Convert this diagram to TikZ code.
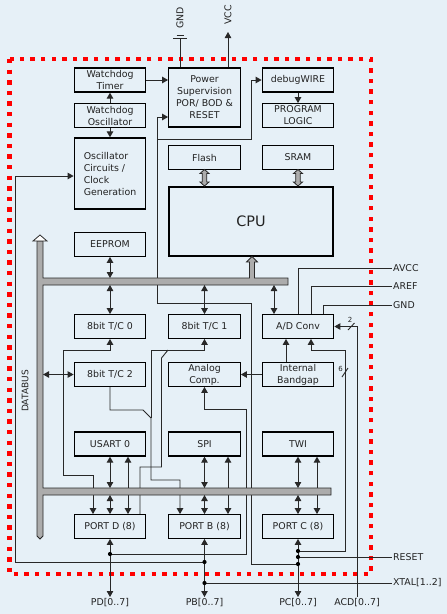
\documentclass[tikz,border=0pt]{standalone}
\usepackage{fontspec}
\setmainfont{DejaVu Sans}
\usetikzlibrary{arrows.meta,calc}
\definecolor{bg}{RGB}{230,240,247}
\definecolor{busg}{RGB}{172,172,172}
\definecolor{ln}{RGB}{40,40,40}
\definecolor{txt}{RGB}{34,34,34}
\begin{document}
\begin{tikzpicture}[x=1pt,y=-1pt,
  blk/.style={draw=black, line width=1.3pt, fill=bg, minimum width=71.5pt, minimum height=23.5pt, inner sep=0pt, align=center, text=txt, font=\fontsize{9.4}{12}\selectfont},
  wire/.style={draw=ln, line width=0.9pt},
  arr/.style={wire, -{Triangle[length=6pt,width=6.5pt]}},
  darr/.style={wire, {Triangle[length=6pt,width=6.5pt]}-{Triangle[length=6pt,width=6.5pt]}},
  lbl/.style={text=txt, font=\fontsize{9.4}{12}\selectfont, inner sep=1pt},
  small/.style={text=txt, font=\fontsize{7}{8}\selectfont, inner sep=0pt},
  jdot/.style={circle, fill=black, inner sep=0pt, minimum size=4.2pt},
  busfill/.style={fill=busg, draw=ln, line width=0.8pt, line join=miter},
]
\fill[bg] (0,0) rectangle (447,614);
\useasboundingbox (0,0) rectangle (447,614);
% chip border
\draw[red, line width=4.3pt, dash pattern=on 4.3pt off 6.3pt] (9.5,59) rectangle (371,574);

% blocks
\node[blk, minimum height=24pt] (wdt) at (110,80) {Watchdog\\Timer};
\node[blk] (wdo) at (110,115.5) {Watchdog\\Oscillator};
\node[blk, minimum height=71pt, align=left] (osc) at (110,173.5) {Oscillator\\Circuits /\\Clock\\Generation};
\node[blk, minimum height=59pt] (pwr) at (204.5,97.5) {Power\\Supervision\\POR/ BOD \&\\RESET};
\node[blk, minimum height=24pt] (dbg) at (298,80) {debugWIRE};
\node[blk] (prg) at (298,115.5) {PROGRAM\\LOGIC};
\node[blk] (flash) at (204.5,157.5) {Flash};
\node[blk] (sram) at (298,157.5) {SRAM};
\node[blk, minimum width=164pt, minimum height=69pt, font=\fontsize{14.4}{16}\selectfont] (cpu) at (251,221.5) {CPU};
\node[blk] (eeprom) at (110,244.5) {EEPROM};
\node[blk] (tc0) at (110,326.5) {8bit T/C 0};
\node[blk] (tc1) at (204.5,326.5) {8bit T/C 1};
\node[blk] (adc) at (298,326.5) {A/D Conv};
\node[blk] (tc2) at (110,374.5) {8bit T/C 2};
\node[blk] (acomp) at (204.5,374.5) {Analog\\Comp.};
\node[blk] (bgap) at (298,374.5) {Internal\\Bandgap};
\node[blk, minimum height=24pt] (usart) at (110,444) {USART 0};
\node[blk, minimum height=24pt] (spi) at (204.5,444) {SPI};
\node[blk, minimum height=24pt] (twi) at (298,444) {TWI};
\node[blk] (portd) at (110,526.5) {PORT D (8)};
\node[blk] (portb) at (204.5,526.5) {PORT B (8)};
\node[blk] (portc) at (298,526.5) {PORT C (8)};

% pins and junctions
\coordinate (gndpin) at (180,38.5);
\coordinate (vccpin) at (228,32);
\coordinate (avccpin) at (392,268);
\coordinate (arefpin) at (392,286);
\coordinate (agndpin) at (392,305);
\coordinate (resetpin) at (392,557);
\coordinate (xtalpin) at (392,583);
\coordinate (pdpin) at (110,597);
\coordinate (pbpin) at (204.5,597);
\coordinate (pcpin) at (298,597);
\coordinate (acdpin) at (357,597);
\coordinate (pdA) at (110,554);
\coordinate (pbA) at (204.5,562);
\coordinate (pbB) at (204.5,583);
\coordinate (pcA) at (298,551);
\coordinate (pcB) at (298,557);
\coordinate (pcC) at (298,564);
\coordinate (ubt) at (0,278);
\coordinate (ubb) at (0,285);
\coordinate (lbt) at (0,488);
\coordinate (lbb) at (0,495);
\coordinate (dbr) at (43,0);

% power pins
\draw[wire] (gndpin |- pwr.north) -- (gndpin);
\draw[wire] (173,38.5) -- (187,38.5);
\draw[wire] (176.5,35.5) -- (183.5,35.5);
\node[lbl, rotate=90] (gndlbl) at (180,18) {GND};
\draw[arr] (vccpin |- pwr.north) -- (vccpin);
\node[lbl, rotate=90] (vcclbl) at (228,15) {VCC};

% top section
\draw[arr] (wdt.east) -- (wdt.east -| pwr.west);
\draw[arr] (wdo.north) -- (wdt.south);
\draw[arr] (wdo.south) -- (osc.north);
\draw[arr] (dbg.south) -- (prg.north);

% reset network
\draw[arr] (pcC) -- (251,564) -- (251,303) -- (157,303) -- (157,117) -- ([yshift=-19.5pt]pwr.west);
\draw[arr] (157,139) -- (251,139) -- (251,80) -- (dbg.west);

% clock
\draw[arr] (pbA) -- (15,562) -- (15,176) -- ([yshift=-2.5pt]osc.west);
\draw[wire] (pbB) -- (xtalpin);
\node[lbl, anchor=west] (xtallbl) at (xtalpin) {XTAL[1..2]};
\draw[wire] (pcB) -- (resetpin);
\node[lbl, anchor=west] (resetlbl) at (resetpin) {RESET};

% analog
\draw[arr] (pdA) -- (246,554) -- (246,409) -- (204.5,409) -- (acomp.south);
\draw[arr] (bgap.west) -- (acomp.east);
\draw[arr] ([xshift=-12pt]bgap.north) -- ([xshift=-12pt]adc.south);
\draw[arr] (pcA) -- (345,551) -- (345,350) -- (311,350) -- ([xshift=13pt]adc.south);
\draw[wire] (342,377) -- (348,368);
\node[small] (six) at (340.5,369) {6};
\draw[arr] (acdpin) -- (357,326.5) -- (adc.east);
\draw[wire] (348,330) -- (354.5,323);
\node[small] (two) at (350,319.5) {2};
\node[lbl, anchor=north] (acdlbl) at (acdpin) {ACD[0..7]};
\draw[wire] (adc.north) |- (avccpin);
\draw[wire] ([xshift=13pt]adc.north) |- (arefpin);
\draw[wire] ([xshift=25pt]adc.north) |- (agndpin);
\node[lbl, anchor=west] (avcclbl) at (avccpin) {AVCC};
\node[lbl, anchor=west] (areflbl) at (arefpin) {AREF};
\node[lbl, anchor=west] (agndlbl) at (agndpin) {GND};

% timers
\draw[darr] (tc0.south) -- (110,350) -- (63,350) -- (63,475) -- (93,475) -- ([xshift=-17pt]portd.north);
\draw[arr] (tc2.south) -- (110,410) -- (143,410) -- (151,418) -- (151,480) -- (180,480) -- ([xshift=-24.5pt]portb.north);
\draw[arr] (151,418) -- (151,350) -- (204.5,350) -- (tc1.south);
\draw[wire] (168,350) -- (161.5,358) -- (161.5,467) -- (140,467) -- ([xshift=30pt]portd.north);

% serial to port direct
\draw[darr] ([xshift=18pt]usart.south) -- ([xshift=18pt]portd.north);
\draw[darr] ([xshift=23.5pt]spi.south) -- ([xshift=23.5pt]portb.north);
\draw[darr] ([xshift=19pt]twi.south) -- ([xshift=19pt]portc.north);

% port pins
\draw[darr] (portd.south) -- (pdpin);
\draw[darr] (portb.south) -- (pbpin);
\draw[darr] (portc.south) -- (pcpin);
\node[lbl, anchor=north] (pdlbl) at (pdpin) {PD[0..7]};
\node[lbl, anchor=north] (pblbl) at (pbpin) {PB[0..7]};
\node[lbl, anchor=north] (pclbl) at (pcpin) {PC[0..7]};
\foreach \p in {pdA,pbA,pbB,pcA,pcB,pcC} \node[jdot] at (\p) {};

% buses
\draw[busfill] (43,241) -- (43,278) -- (249.5,278) -- (249.5,262) -- (246.5,262) -- (252,256.5) -- (257.5,262) -- (254.5,262) -- (254.5,278) -- (288,278) -- (288,285) -- (43,285) -- (43,488) -- (331,488) -- (331,495) -- (43,495) -- (43,536) -- (40,539) -- (37,536) -- (37,241) -- cycle;
\draw[fill=white, draw=ln, line width=0.8pt, line join=miter] (40,235) -- (47,241) -- (33,241) -- cycle;
\node[lbl, rotate=90, font=\fontsize{9}{10}\selectfont] (dblabel) at (25,391) {DATABUS};

% bus connections
\draw[darr] (eeprom.south) -- (eeprom.south |- ubt);
\draw[darr] (ubb -| tc0.north) -- (tc0.north);
\draw[darr] (ubb -| tc1.north) -- (tc1.north);
\draw[darr] ([xshift=-24pt]ubb -| adc.north) -- ([xshift=-24pt]adc.north);
\draw[darr] (dbr |- tc2.west) -- (tc2.west);
\draw[darr] (usart.south) -- (usart.south |- lbt);
\draw[darr] (spi.south) -- (spi.south |- lbt);
\draw[darr] (twi.south) -- (twi.south |- lbt);
\draw[darr] (lbb -| portd.north) -- (portd.north);
\draw[darr] (lbb -| portb.north) -- (portb.north);
\draw[darr] (lbb -| portc.north) -- (portc.north);

% memory gray arrows
\foreach \cx in {204.5,298}{
  \draw[busfill] (\cx,169.5) -- (\cx+4.5,173.5) -- (\cx+2.3,173.5) -- (\cx+2.3,182) -- (\cx+4.5,182) -- (\cx,186) -- (\cx-4.5,182) -- (\cx-2.3,182) -- (\cx-2.3,173.5) -- (\cx-4.5,173.5) -- cycle;
}
\end{tikzpicture}
\end{document}
